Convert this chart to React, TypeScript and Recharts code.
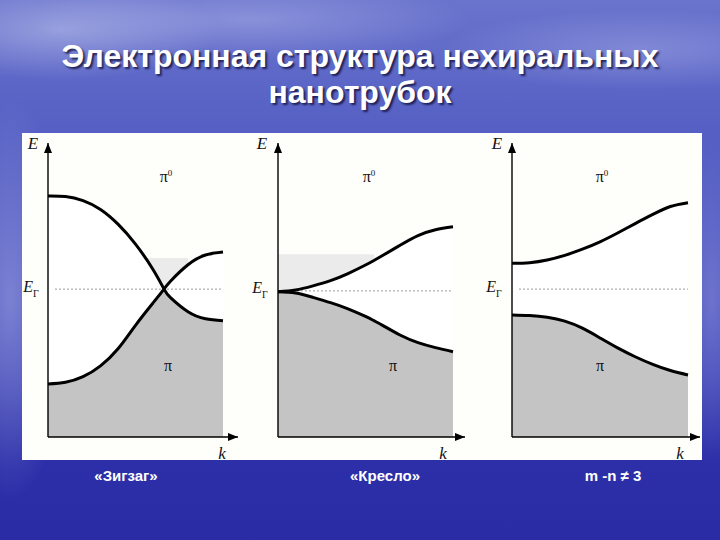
import React from "react";
import { Area, ComposedChart, Line, ReferenceLine, XAxis, YAxis } from "recharts";

// values; energy in arbitrary units (0 = k axis, 10 = top of E axis)
const zigzagK = [0, 0.1, 0.2, 0.3, 0.4, 0.5, 0.6, 0.663, 0.7, 0.8, 0.9, 1];
const zigzagUpper = [8.2, 8.18, 8.04, 7.74, 7.24, 6.56, 5.7, 5.03, 4.74, 4.26, 4.02, 3.95];
const zigzagLower = [1.8, 1.86, 2.05, 2.42, 3.0, 3.8, 4.56, 5.03, 5.3, 5.86, 6.19, 6.29];

const armchairK = [0, 0.1, 0.2, 0.3, 0.4, 0.5, 0.55, 0.6, 0.7, 0.8, 0.9, 1];
const armchairUpper = [4.94, 5.0, 5.14, 5.32, 5.56, 5.85, 6.01, 6.18, 6.53, 6.85, 7.05, 7.15];
const armchairLower = [4.94, 4.9, 4.75, 4.57, 4.36, 4.1, 3.95, 3.79, 3.46, 3.21, 3.04, 2.9];

const otherK = [0, 0.1, 0.2, 0.3, 0.4, 0.5, 0.6, 0.7, 0.8, 0.9, 1];
const otherUpper = [5.91, 5.93, 6.02, 6.18, 6.39, 6.64, 6.94, 7.26, 7.57, 7.84, 7.97];
const otherLower = [4.15, 4.13, 4.07, 3.94, 3.7, 3.37, 3.03, 2.73, 2.47, 2.26, 2.11];

const fermiLevels = [5.03, 4.97, 5.03];
// light grey band: [k from, k to, upper energy]
const lightBands = [[0.5, 0.8, 6.09], [0, 0.55, 6.22], null];

const captions = ["«Зигзаг»", "«Кресло»", "m -n ≠ 3"];

const PLOT_TOP = 143;
const PLOT_BOTTOM = 437;
const M = { top: 8, right: 6, bottom: 6, left: 6 };

function buildRows(ks: number[], up: number[], lo: number[], band: number[] | null, ef: number) {
  return ks.map((k, i) => {
    const u = up[i];
    const l = lo[i];
    const inBand = band && k >= band[0] - 1e-6 && k <= band[1] + 1e-6;
    return {
      k,
      up: u,
      lo: l,
      between: [l, u],
      darkA: l <= u ? [0, l] : null,
      darkB: u <= l ? [0, u] : null,
      light: inBand ? [ef, band![2]] : null,
    };
  });
}

const panels = [
  {
    rows: buildRows(zigzagK, zigzagUpper, zigzagLower, lightBands[0], fermiLevels[0]),
    ef: fermiLevels[0],
    left: 48,
    right: 238,
    kMax: 190 / 175,
    labels: { e: [33, 143], ef: [31, 289], pi0: [166, 177], pi: [168, 366], k: [222, 453] },
  },
  {
    rows: buildRows(armchairK, armchairUpper, armchairLower, lightBands[1], fermiLevels[1]),
    ef: fermiLevels[1],
    left: 278,
    right: 465,
    kMax: 187 / 175,
    labels: { e: [262, 143], ef: [260, 290], pi0: [369, 177], pi: [393, 366], k: [443, 453] },
  },
  {
    rows: buildRows(otherK, otherUpper, otherLower, lightBands[2], fermiLevels[2]),
    ef: fermiLevels[2],
    left: 512,
    right: 700,
    kMax: 188 / 176,
    labels: { e: [497, 143], ef: [494, 289], pi0: [602, 177], pi: [600, 366], k: [680, 453] },
  },
];

const serif = '"Liberation Serif", "DejaVu Serif", serif';

function Txt({ x, y, children, size = 16, italic = false }: any) {
  return (
    <div
      style={{
        position: "absolute",
        left: x,
        top: y,
        transform: "translate(-50%, -50%)",
        fontFamily: serif,
        fontStyle: italic ? "italic" : "normal",
        fontSize: size,
        color: "#111",
        whiteSpace: "nowrap",
        lineHeight: 1,
      }}
    >
      {children}
    </div>
  );
}

function Panel({ p, idx }: { p: (typeof panels)[number]; idx: number }) {
  const w = p.right - p.left + M.left + M.right;
  const h = PLOT_BOTTOM - PLOT_TOP + M.top + M.bottom;
  const arrowId = `arrow${idx}`;
  const curve = "natural" as const;
  return (
    <div style={{ position: "absolute", left: p.left - M.left, top: PLOT_TOP - M.top }}>
      <ComposedChart width={w} height={h} data={p.rows} margin={M}>
        <defs>
          <marker
            id={arrowId}
            viewBox="0 0 10 8"
            refX="10"
            refY="4"
            markerWidth="11"
            markerHeight="8"
            markerUnits="userSpaceOnUse"
            orient="auto"
          >
            <path d="M0,0 L10,4 L0,8 z" fill="#000" />
          </marker>
        </defs>
        <XAxis type="number" dataKey="k" domain={[0, p.kMax]} allowDataOverflow hide />
        <YAxis type="number" domain={[0, 10]} allowDataOverflow hide />
        <Area dataKey="light" type="linear" fill="#ebebeb" fillOpacity={1} stroke="none" isAnimationActive={false} />
        <Area dataKey="between" type={curve} fill="#ffffff" fillOpacity={1} stroke="none" isAnimationActive={false} />
        <Area dataKey="darkA" type={curve} fill="#c4c4c4" fillOpacity={1} stroke="none" isAnimationActive={false} />
        <Area dataKey="darkB" type={curve} fill="#c4c4c4" fillOpacity={1} stroke="none" isAnimationActive={false} />
        <ReferenceLine
          segment={[{ x: 0.04, y: p.ef }, { x: 1, y: p.ef }]}
          stroke="#9a9a9a"
          strokeWidth={1}
          strokeDasharray="2 2"
        />
        <Line dataKey="up" type={curve} stroke="#000" strokeWidth={3} dot={false} isAnimationActive={false} />
        <Line dataKey="lo" type={curve} stroke="#000" strokeWidth={3} dot={false} isAnimationActive={false} />
        <ReferenceLine
          segment={[{ x: 0, y: 0 }, { x: p.kMax, y: 0 }]}
          stroke="#000"
          strokeWidth={1.4}
          markerEnd={`url(#${arrowId})`}
          ifOverflow="visible"
        />
        <ReferenceLine
          segment={[{ x: 0, y: 0 }, { x: 0, y: 10 }]}
          stroke="#000"
          strokeWidth={1.4}
          markerEnd={`url(#${arrowId})`}
          ifOverflow="visible"
        />
      </ComposedChart>
    </div>
  );
}

export default function App() {
  return (
    <div
      style={{
        position: "absolute",
        left: 0,
        top: 0,
        width: 720,
        height: 540,
        overflow: "hidden",
        background:
          "radial-gradient(ellipse 160px 50px at 60px 30px, rgba(210,215,245,0.45), transparent)," +
          "radial-gradient(ellipse 220px 40px at 250px 20px, rgba(200,205,245,0.35), transparent)," +
          "radial-gradient(ellipse 200px 40px at 640px 50px, rgba(200,205,245,0.3), transparent)," +
          "radial-gradient(ellipse 60px 200px at 10px 300px, rgba(190,195,240,0.45), transparent)," +
          "radial-gradient(ellipse 40px 160px at 712px 300px, rgba(170,175,235,0.4), transparent)," +
          "linear-gradient(180deg, #6a74cc 0%, #5a64c6 18%, #4d56bf 40%, #3c42b4 70%, #2c2fa8 86%, #2a2ca6 100%)",
      }}
    >
      <div
        style={{
          position: "absolute",
          left: 0,
          width: 720,
          top: 38,
          textAlign: "center",
          fontFamily: '"Liberation Sans", Arial, sans-serif',
          fontWeight: "bold",
          fontSize: 32,
          lineHeight: "36px",
          color: "#fff",
          textShadow: "2px 2px 2px rgba(10,10,50,0.75)",
        }}
      >
        Электронная структура нехиральных
        <br />
        нанотрубок
      </div>

      <div
        style={{
          position: "absolute",
          left: 22,
          top: 133,
          width: 680,
          height: 327,
          background: "#fefefb",
        }}
      />

      {panels.map((p, i) => (
        <Panel key={i} p={p} idx={i} />
      ))}

      {panels.map((p, i) => (
        <React.Fragment key={"l" + i}>
          <Txt x={p.labels.e[0]} y={p.labels.e[1]} italic size={17}>E</Txt>
          <Txt x={p.labels.ef[0]} y={p.labels.ef[1]} italic size={16}>
            E<sub style={{ fontSize: 10, fontStyle: "normal" }}>Г</sub>
          </Txt>
          <Txt x={p.labels.pi0[0]} y={p.labels.pi0[1]} size={16}>
            π<sup style={{ fontSize: 9 }}>0</sup>
          </Txt>
          <Txt x={p.labels.pi[0]} y={p.labels.pi[1]} size={16}>π</Txt>
          <Txt x={p.labels.k[0]} y={p.labels.k[1]} italic size={17}>k</Txt>
        </React.Fragment>
      ))}

      {captions.map((c, i) => (
        <div
          key={c}
          style={{
            position: "absolute",
            left: [126, 385, 613][i],
            top: 475,
            transform: "translate(-50%, -50%)",
            fontFamily: '"Liberation Sans", Arial, sans-serif',
            fontWeight: "bold",
            fontSize: 15,
            color: "#fff",
            whiteSpace: "nowrap",
          }}
        >
          {c}
        </div>
      ))}
    </div>
  );
}
